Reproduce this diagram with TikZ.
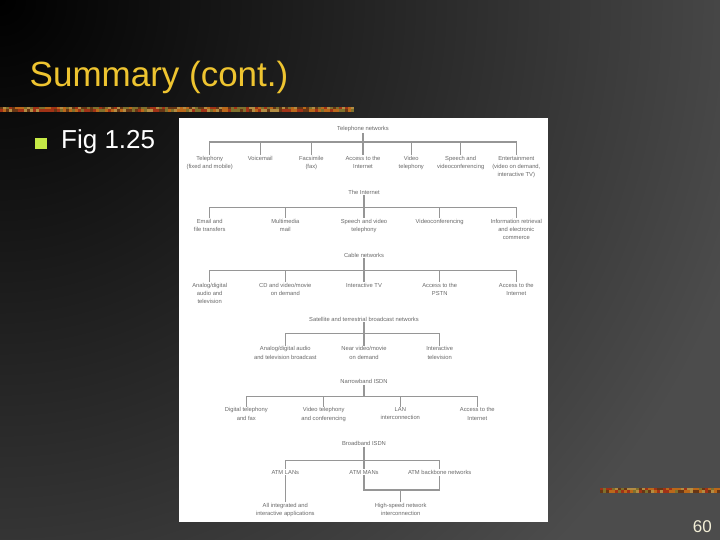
\documentclass[tikz,border=0pt]{standalone}
\usepackage{fontspec}
\setmainfont{Liberation Sans}
\definecolor{titlegold}{RGB}{238,196,48}
\definecolor{bulletgreen}{RGB}{198,234,70}
\definecolor{numcream}{RGB}{242,238,214}
\definecolor{figtext}{RGB}{105,105,105}
\definecolor{figline}{RGB}{150,150,150}
\definecolor{bgmid}{RGB}{42,42,42}
\definecolor{bgend}{RGB}{76,76,76}
\definecolor{deco1}{RGB}{186,104,26}
\definecolor{deco2}{RGB}{104,54,20}
\definecolor{deco3}{RGB}{128,112,44}
\definecolor{deco4}{RGB}{160,50,22}
\definecolor{deco5}{RGB}{178,140,66}

\begin{document}
\begin{tikzpicture}[x=1pt, y=-1pt]
\tikzstyle{hub} = [font=\fontsize{5.8}{8.2}\selectfont, text=figtext, inner sep=1pt, align=center]
\tikzstyle{leaf} = [hub, anchor=north]
\tikzstyle{link} = [draw=figline, line width=1.1pt]

% slide background
\useasboundingbox (0,0) rectangle (720,540);
\fill[bgend] (0,0) rectangle (720,540);
\begin{scope}
\clip (0,0) rectangle (720,540);
\shade[inner color=black, middle color=bgmid, outer color=bgend] (0,0) circle (780);
\end{scope}

\node (Title) [anchor=base west, inner sep=0, text=titlegold, font=\fontsize{35}{40}\selectfont] at (29.5,86.5) {Summary (cont.)};

% textured rules
\pgfmathsetseed{11}
\foreach \i in {0,...,117}{
  \pgfmathrandominteger{\c}{1}{5}
  \fill[deco\c] (\i*3,107) rectangle ++(3,2.5);
  \pgfmathrandominteger{\c}{1}{5}
  \fill[deco\c] (\i*3,109.5) rectangle ++(3,2.5);
}
\foreach \i in {0,...,39}{
  \pgfmathrandominteger{\c}{1}{5}
  \fill[deco\c] (600+\i*3,487.5) rectangle ++(3,2.5);
  \pgfmathrandominteger{\c}{1}{5}
  \fill[deco\c] (600+\i*3,490) rectangle ++(3,2.5);
}

\node (Bullet) [fill=bulletgreen, minimum size=11.5pt, inner sep=0] at (41,143.5) {};
\node (Fig) [anchor=base west, inner sep=0, text=white, font=\fontsize{26}{30}\selectfont] at (61,148.3) {Fig 1.25};
\node (PageNum) [anchor=base east, inner sep=0, text=numcream, font=\fontsize{17}{20}\selectfont] at (712,532) {60};

% the figure
\fill[white] (179,118) rectangle (548,522);

% telephone networks
\node (TelNet) [hub] at (363,129) {Telephone networks};
\coordinate (TelBus) at (363,142);
\node (Telephony) [leaf] at (209.7,155) {Telephony\\(fixed and mobile)};
\node (Voicemail) [leaf] at (260.3,155) {Voicemail};
\node (Facsimile) [leaf] at (311.3,155) {Facsimile\\(fax)};
\node (TelInternet) [leaf] at (363,155) {Access to the\\Internet};
\node (VideoTel) [leaf] at (411.3,155) {Video\\telephony};
\node (SpeechConf) [leaf] at (460.7,155) {Speech and\\videoconferencing};
\node (Entertainment) [leaf] at (516.3,155) {Entertainment\\(video on demand,\\interactive TV)};
\draw [link] (TelNet) -- (TelBus);
\draw [link] (TelBus) -| (Telephony.north);
\draw [link] (TelBus) -| (Voicemail.north);
\draw [link] (TelBus) -| (Facsimile.north);
\draw [link] (TelBus) -- (TelInternet.north);
\draw [link] (TelBus) -| (VideoTel.north);
\draw [link] (TelBus) -| (SpeechConf.north);
\draw [link] (TelBus) -| (Entertainment.north);

% the internet
\node (Internet) [hub] at (364,192) {The Internet};
\coordinate (NetBus) at (364,207.5);
\node (Email) [leaf] at (209.7,218) {Email and\\file transfers};
\node (MMMail) [leaf] at (285.3,218) {Multimedia\\mail};
\node (SpeechVideo) [leaf] at (364,218) {Speech and video\\telephony};
\node (VideoConf) [leaf] at (439.7,218) {Videoconferencing};
\node (InfoRetrieval) [leaf] at (516.3,218) {Information retrieval\\and electronic\\commerce};
\draw [link] (Internet) -- (NetBus);
\draw [link] (NetBus) -| (Email.north);
\draw [link] (NetBus) -| (MMMail.north);
\draw [link] (NetBus) -- (SpeechVideo.north);
\draw [link] (NetBus) -| (VideoConf.north);
\draw [link] (NetBus) -| (InfoRetrieval.north);

% cable networks
\node (Cable) [hub] at (364,255) {Cable networks};
\coordinate (CableBus) at (364,270.5);
\node (AnalogTV) [leaf] at (209.7,282) {Analog/digital\\audio and\\television};
\node (CDVideo) [leaf] at (285.3,282) {CD and video/movie\\on demand};
\node (InterTV) [leaf] at (364,282) {Interactive TV};
\node (CablePSTN) [leaf] at (439.7,282) {Access to the\\PSTN};
\node (CableInternet) [leaf] at (516.3,282) {Access to the\\Internet};
\draw [link] (Cable) -- (CableBus);
\draw [link] (CableBus) -| (AnalogTV.north);
\draw [link] (CableBus) -| (CDVideo.north);
\draw [link] (CableBus) -- (InterTV.north);
\draw [link] (CableBus) -| (CablePSTN.north);
\draw [link] (CableBus) -| (CableInternet.north);

% satellite and terrestrial broadcast
\node (Broadcast) [hub] at (364,319) {Satellite and terrestrial broadcast networks};
\coordinate (CastBus) at (364,333.3);
\node (AnalogCast) [leaf] at (285.3,345.5) {Analog/digital audio\\and television broadcast};
\node (NearVideo) [leaf] at (364,345.5) {Near video/movie\\on demand};
\node (InterTele) [leaf] at (439.7,345.5) {Interactive\\television};
\draw [link] (Broadcast) -- (CastBus);
\draw [link] (CastBus) -| (AnalogCast.north);
\draw [link] (CastBus) -- (NearVideo.north);
\draw [link] (CastBus) -| (InterTele.north);

% narrowband ISDN
\node (NISDN) [hub] at (364,381.7) {Narrowband ISDN};
\coordinate (NBus) at (364,396.7);
\node (DigitalTel) [leaf] at (246.3,406.5) {Digital telephony\\and fax};
\node (VideoTelConf) [leaf] at (323.7,406.5) {Video telephony\\and conferencing};
\node (LANInter) [leaf] at (400.3,406.5) {LAN\\interconnection};
\node (NInternet) [leaf] at (477.3,406.5) {Access to the\\Internet};
\draw [link] (NISDN) -- (NBus);
\draw [link] (NBus) -| (DigitalTel.north);
\draw [link] (NBus) -| (VideoTelConf.north);
\draw [link] (NBus) -| (LANInter.north);
\draw [link] (NBus) -| (NInternet.north);

% broadband ISDN
\node (BISDN) [hub] at (364,443.3) {Broadband ISDN};
\coordinate (BBus) at (364,460.7);
\node (ATMLANs) [leaf] at (285.3,469) {ATM LANs};
\node (ATMMANs) [leaf] at (364,469) {ATM MANs};
\node (ATMBackbone) [leaf] at (439.7,469) {ATM backbone networks};
\node (AllApps) [leaf] at (285.3,502) {All integrated and\\interactive applications};
\node (HighSpeed) [leaf] at (400.7,502) {High-speed network\\interconnection};
\coordinate (HSBus) at (400.7,490);
\draw [link] (BISDN) -- (BBus);
\draw [link] (BBus) -| (ATMLANs.north);
\draw [link] (BBus) -- (ATMMANs.north);
\draw [link] (BBus) -| (ATMBackbone.north);
\draw [link] (ATMLANs) -- (AllApps);
\draw [link] (ATMMANs) |- (HSBus) -| (ATMBackbone);
\draw [link] (HSBus) -- (HighSpeed);
\end{tikzpicture}
\end{document}
